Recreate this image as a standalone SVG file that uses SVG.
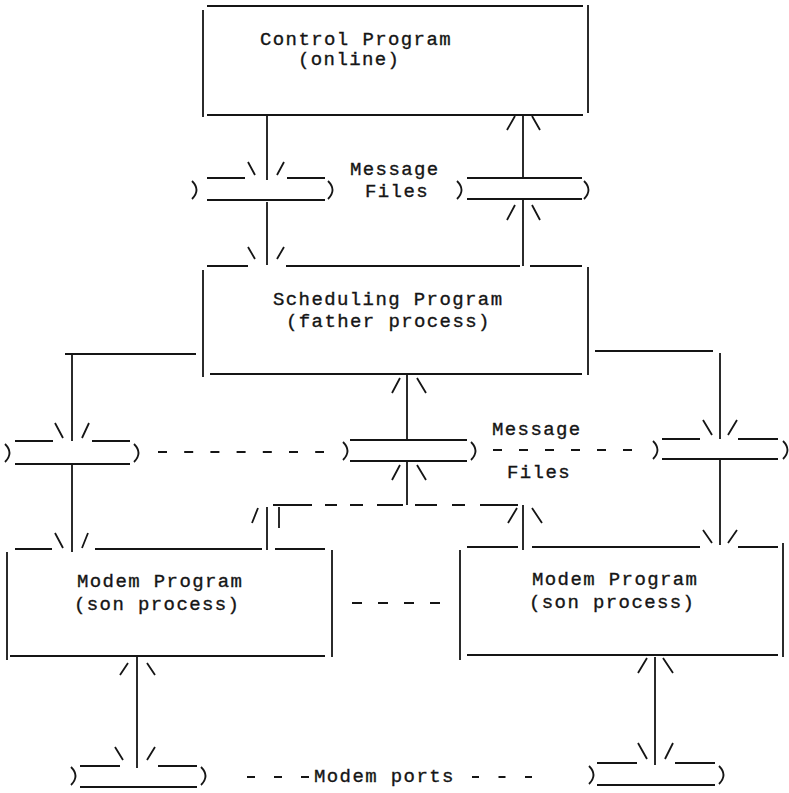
<svg xmlns="http://www.w3.org/2000/svg" width="789" height="793" viewBox="0 0 789 793">
<style>
.l{stroke:#151515;stroke-width:1.8;fill:none;stroke-linecap:butt}
.d{stroke:#151515;stroke-width:1.8;fill:none}
.p{stroke:#151515;stroke-width:1.8;fill:none}
.t{font-family:"Liberation Mono","DejaVu Sans Mono",monospace;font-size:19px;letter-spacing:1.4px;fill:#151515;stroke:#151515;stroke-width:0.35}
</style>
<rect width="789" height="793" fill="#fff"/>

<g id="control-program">
<path class="l" d="M207,6H583M203,10V117M588,5V113M207,115H583"/>
<text class="t" x="260" y="45">Control Program</text>
<text class="t" x="298" y="65">(online)</text>
</g>

<g id="scheduling-program">
<path class="l" d="M207,266H248M286,266H520M530,266H582M203,270V377M588,267V375M210,374H582"/>
<text class="t" x="273" y="305">Scheduling Program</text>
<text class="t" x="286" y="327">(father process)</text>
</g>

<g id="modem-program-left">
<path class="l" d="M15,549H52M95,549H262M275,549H325M7,552V660M332,550V657M10,656H325"/>
<text class="t" x="77" y="587">Modem Program</text>
<text class="t" x="74" y="610">(son process)</text>
</g>

<g id="modem-program-right">
<path class="l" d="M467,547H518M532,547H700M738,547H778M460,550V660M783,543V657M467,655H778"/>
<text class="t" x="532" y="585">Modem Program</text>
<text class="t" x="529" y="608">(son process)</text>
</g>

<g id="message-file-1">
<path class="l" d="M207,178H245M287,178H325M207,200H325"/>
<path class="p" d="M192,181Q201,190 192,199M328,181Q337,190 328,199"/>
</g>

<g id="message-file-2">
<path class="l" d="M467,178H582M467,199H582"/>
<path class="p" d="M457,181Q466,190 457,199M584,181Q593,190 584,199"/>
</g>

<g id="message-file-3">
<path class="l" d="M15,441H53M92,441H130M15,464H130"/>
<path class="p" d="M5,444Q14,453 5,462M134,444Q143,453 134,462"/>
</g>

<g id="message-file-4">
<path class="l" d="M350,440H467M350,461H467"/>
<path class="p" d="M343,442Q352,451 343,460M471,442Q480,451 471,460"/>
</g>

<g id="message-file-5">
<path class="l" d="M662,439H700M738,439H778M662,459H778"/>
<path class="p" d="M653,441Q662,450 653,459M783,441Q792,450 783,459"/>
</g>

<g id="modem-port-1">
<path class="l" d="M80,766H120M158,766H197M80,787H197"/>
<path class="p" d="M71,767Q80,776 71,785M201,767Q210,776 201,785"/>
</g>

<g id="modem-port-2">
<path class="l" d="M597,763H637M675,763H715M597,785H715"/>
<path class="p" d="M589,766Q598,775 589,784M719,766Q728,775 719,784"/>
</g>

<g id="labels">
<text class="t" x="350" y="175">Message</text>
<text class="t" x="365" y="197">Files</text>
<text class="t" x="492" y="435">Message</text>
<text class="t" x="507" y="478">Files</text>
<text class="t" x="314" y="782">Modem ports</text>
</g>

<g id="connectors">
<path class="l" d="M267,115V180M248,162L255,175M284,162L277,175"/>
<path class="l" d="M267,202V265M248,247L255,259M284,247L277,259"/>
<path class="l" d="M523,115V178M507,130L515,116M532,116L540,130"/>
<path class="l" d="M523,199V266M507,220L515,205M532,205L540,220"/>
<path class="l" d="M65,354H196M72,354V441M55,423L63,438M89,423L82,438"/>
<path class="l" d="M72,464V552M55,533L63,548M88,533L82,548"/>
<path class="l" d="M595,351H713M720,353V439M703,420L712,435M737,420L728,435"/>
<path class="l" d="M720,459V545M703,530L712,543M737,530L728,543"/>
<path class="l" d="M407,374V440M392,393L400,378M417,378L426,393"/>
<path class="l" d="M407,461V505M392,480L400,465M417,465L426,480"/>
<path class="l" d="M273,505H312M325,505H337M350,505H363M377,505H403M415,505H437M452,505H465M480,505H518"/>
<path class="l" d="M279,507V528M267,507V550M252,523L258,508"/>
<path class="l" d="M523,505V550M508,523L517,508M532,508L542,523"/>
<path class="d" d="M158,452H324" stroke-dasharray="9 17.2"/>
<path class="d" d="M493,450H632" stroke-dasharray="9 17"/>
<path class="d" d="M352,603H440" stroke-dasharray="10 16"/>
<path class="d" d="M247,777H309" stroke-dasharray="8 19"/>
<path class="d" d="M472,777H533" stroke-dasharray="7 19.5"/>
<path class="l" d="M137,657V768M120,675L128,663M147,663L155,675M115,747L123,760M155,747L147,760"/>
<path class="l" d="M655,657V765M638,673L647,658M663,658L673,673M638,743L647,759M673,743L665,759"/>
</g>
</svg>
